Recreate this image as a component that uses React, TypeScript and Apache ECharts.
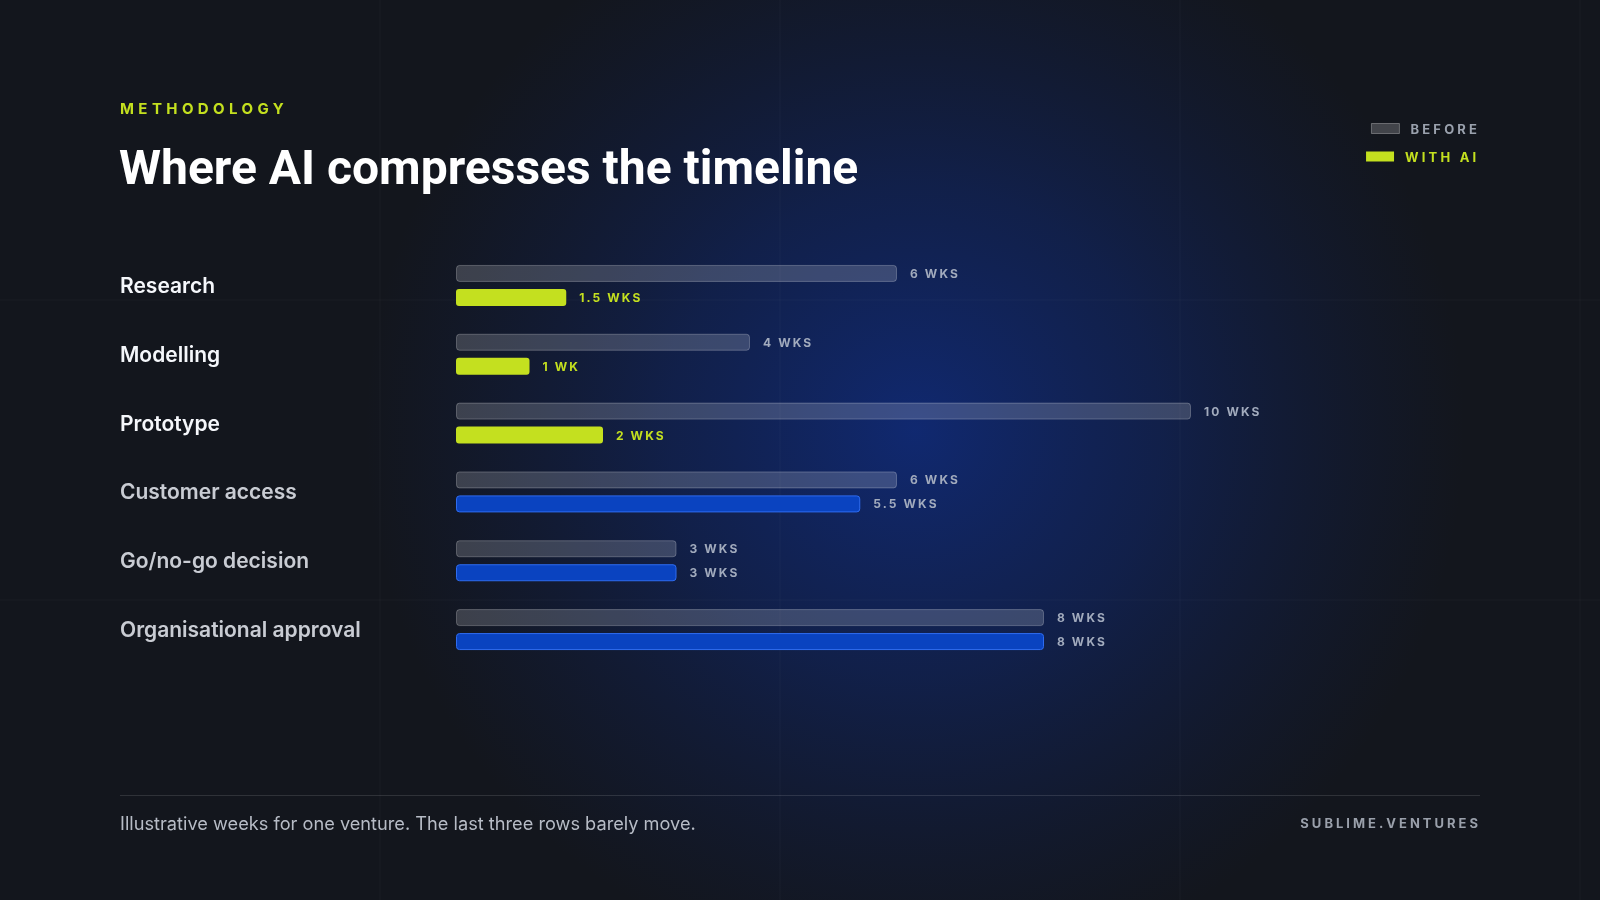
import React, { useEffect, useRef } from "react";
import * as echarts from "echarts";

const categories = [
  "Research",
  "Modelling",
  "Prototype",
  "Customer access",
  "Go/no-go decision",
  "Organisational approval",
];
const beforeWeeks = [6, 4, 10, 6, 3, 8];
const withAiWeeks = [1.5, 1, 2, 5.5, 3, 8];
const aiCompressed = [true, true, true, false, false, false];
const axisMax = 10;

const FONT = "Inter, 'Noto Sans', sans-serif";
const TITLE_FONT = "Roboto, Inter, sans-serif";
const LIME = "#c4e01f";
const BLUE_FILL = "#0a43c0";
const BLUE_BORDER = "#2f6cf0";
const LABEL_GRAY = "#a2abbd";

const weeksLabel = (v: number) => (v === 1 ? "1 WK" : `${v} WKS`);

function spacingFor(s: string): string | null {
  if (s === "METHODOLOGY") return "4.4px";
  if (s === "BEFORE" || s === "WITH AI") return "3.2px";
  if (s === "SUBLIME.VENTURES") return "3px";
  if (/^[\d.]+ WKS?$/.test(s)) return "2.1px";
  return null;
}

function applyLetterSpacing(root: HTMLElement) {
  root.querySelectorAll("text").forEach((t) => {
    const sp = spacingFor((t.textContent || "").trim());
    if (sp) (t as SVGTextElement).style.letterSpacing = sp;
  });
}

export default function App() {
  const ref = useRef<HTMLDivElement>(null);

  useEffect(() => {
    if (!ref.current) return;
    document.body.style.margin = "0";
    document.body.style.background = "#12151c";
    const chart = echarts.init(ref.current, null, { renderer: "svg" });

    const bgGraphics: any[] = [
      {
        type: "rect",
        z: -20,
        silent: true,
        shape: { x: 0, y: 0, width: 1600, height: 900 },
        style: { fill: "#13161d" },
      },
      {
        type: "rect",
        z: -19,
        silent: true,
        shape: { x: 0, y: 0, width: 1600, height: 900 },
        style: {
          fill: {
            type: "radial",
            x: 915,
            y: 430,
            r: 550,
            global: true,
            colorStops: [
              { offset: 0, color: "rgba(14,56,180,0.55)" },
              { offset: 0.45, color: "rgba(14,50,156,0.35)" },
              { offset: 1, color: "rgba(14,40,120,0)" },
            ],
          },
        },
      },
    ];
    [380, 780, 1180, 1580].forEach((x) =>
      bgGraphics.push({
        type: "line",
        z: -18,
        silent: true,
        shape: { x1: x, y1: 0, x2: x, y2: 900 },
        style: { stroke: "rgba(255,255,255,0.035)", lineWidth: 1 },
      })
    );
    [300, 600].forEach((y) =>
      bgGraphics.push({
        type: "line",
        z: -18,
        silent: true,
        shape: { x1: 0, y1: y, x2: 1600, y2: y },
        style: { stroke: "rgba(255,255,255,0.035)", lineWidth: 1 },
      })
    );

    const textGraphics: any[] = [
      {
        type: "text",
        x: 120,
        y: 108,
        style: {
          text: "METHODOLOGY",
          fill: LIME,
          font: `700 15px ${FONT}`,
          verticalAlign: "middle",
        },
      },
      {
        type: "text",
        x: 119,
        y: 167,
        style: {
          text: "Where AI compresses the timeline",
          fill: "#ffffff",
          font: `700 48px ${TITLE_FONT}`,
          verticalAlign: "middle",
        },
      },
      {
        type: "line",
        silent: true,
        shape: { x1: 120, y1: 795.5, x2: 1480, y2: 795.5 },
        style: { stroke: "rgba(255,255,255,0.12)", lineWidth: 1 },
      },
      {
        type: "text",
        x: 120,
        y: 823,
        style: {
          text: "Illustrative weeks for one venture. The last three rows barely move.",
          fill: "#b7bcc6",
          font: `400 18.2px ${FONT}`,
          verticalAlign: "middle",
        },
      },
      {
        type: "text",
        x: 1481,
        y: 823,
        style: {
          text: "SUBLIME.VENTURES",
          fill: "#9aa0ab",
          font: `700 13px ${FONT}`,
          align: "right",
          verticalAlign: "middle",
        },
      },
    ];

    const legendCommon = {
      orient: "horizontal",
      padding: 0,
      itemWidth: 28,
      itemHeight: 10,
      icon: "rect",
      selectedMode: false,
      formatter: (n: string) => n.toUpperCase(),
    };

    chart.setOption({
      animation: false,
      backgroundColor: "transparent",
      graphic: { elements: [...bgGraphics, ...textGraphics] },
      legend: [
        {
          ...legendCommon,
          data: ["Before"],
          right: 139,
          top: 122,
          itemStyle: {
            color: "rgba(255,255,255,0.2)",
            borderColor: "rgba(255,255,255,0.3)",
            borderWidth: 1,
          },
          textStyle: {
            color: "#9aa1ad",
            fontSize: 13,
            fontWeight: 700,
            fontFamily: FONT,
            padding: [0, 0, 0, 6],
          },
        },
        {
          ...legendCommon,
          data: ["With AI"],
          right: 143,
          top: 150,
          itemStyle: { color: LIME, borderWidth: 0 },
          textStyle: {
            color: LIME,
            fontSize: 13,
            fontWeight: 700,
            fontFamily: FONT,
            padding: [0, 0, 0, 6],
          },
        },
      ],
      grid: { left: 456, top: 251, width: 735, height: 413, containLabel: false },
      xAxis: {
        type: "value",
        min: 0,
        max: axisMax,
        show: false,
      },
      yAxis: {
        type: "category",
        data: categories,
        inverse: true,
        axisLine: { show: false },
        axisTick: { show: false },
        splitLine: { show: false },
        axisLabel: {
          align: "left",
          margin: 336,
          fontSize: 21,
          fontWeight: 600,
          fontFamily: FONT,
          color: (_v: string, i: number) =>
            aiCompressed[i] ? "#f5f7fb" : "rgba(236,240,247,0.84)",
        },
      },
      series: [
        {
          name: "Before",
          type: "bar",
          data: beforeWeeks,
          barWidth: 17,
          barGap: "41%",
          silent: true,
          itemStyle: {
            color: "rgba(255,255,255,0.18)",
            borderColor: "rgba(255,255,255,0.24)",
            borderWidth: 1,
            borderRadius: 3,
          },
          label: {
            show: true,
            position: "right",
            distance: 13,
            formatter: (p: any) => weeksLabel(p.value),
            color: LABEL_GRAY,
            fontSize: 12,
            fontWeight: 700,
            fontFamily: FONT,
          },
        },
        {
          name: "With AI",
          type: "bar",
          barWidth: 17,
          silent: true,
          itemStyle: { color: LIME, borderRadius: 3 },
          data: withAiWeeks.map((v, i) =>
            aiCompressed[i]
              ? { value: v, itemStyle: { color: LIME }, label: { color: LIME } }
              : {
                  value: v,
                  itemStyle: {
                    color: BLUE_FILL,
                    borderColor: BLUE_BORDER,
                    borderWidth: 1,
                  },
                  label: { color: LABEL_GRAY },
                }
          ),
          label: {
            show: true,
            position: "right",
            distance: 13,
            formatter: (p: any) => weeksLabel(p.value),
            fontSize: 12,
            fontWeight: 700,
            fontFamily: FONT,
          },
        },
      ],
    });

    const el = ref.current;
    applyLetterSpacing(el);
    chart.on("finished", () => applyLetterSpacing(el));
    const t1 = setTimeout(() => applyLetterSpacing(el), 30);
    const t2 = setTimeout(() => applyLetterSpacing(el), 300);

    return () => {
      clearTimeout(t1);
      clearTimeout(t2);
      chart.dispose();
    };
  }, []);

  return (
    <div
      ref={ref}
      style={{ position: "fixed", left: 0, top: 0, width: 1600, height: 900 }}
    />
  );
}
